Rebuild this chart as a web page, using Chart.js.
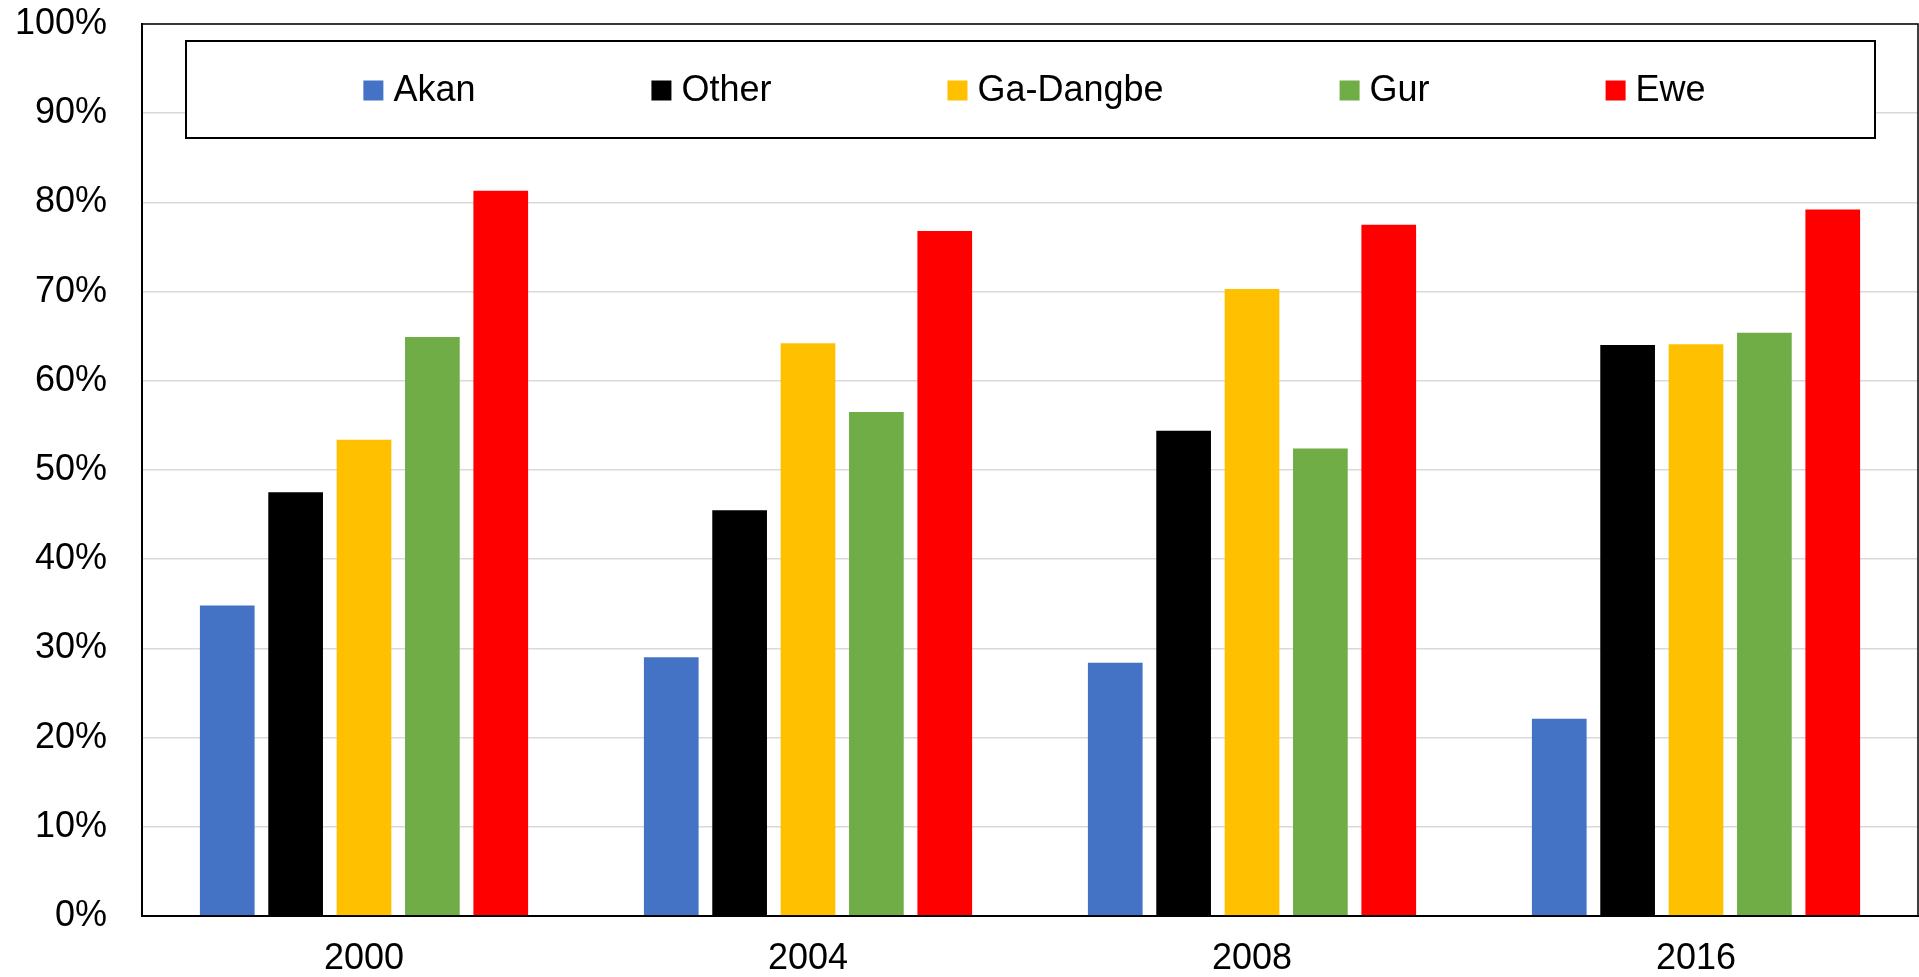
<!DOCTYPE html>
<html>
<head>
<meta charset="utf-8">
<script src="https://cdn.jsdelivr.net/npm/chart.js@4.4.0/dist/chart.umd.min.js"></script>
<style>
  html, body { margin: 0; padding: 0; background: #fff; overflow: hidden; }
  #wrap { width: 1919px; height: 977px; }
</style>
</head>
<body>
<div id="wrap"><canvas id="chart" width="1919" height="977"></canvas></div>
<script>
var years = ['2000', '2004', '2008', '2016'];
var groups = ['Akan', 'Other', 'Ga-Dangbe', 'Gur', 'Ewe'];
var colors = ['#4472C4', '#000000', '#FFC000', '#70AD47', '#FF0000'];

// percent values, one array per group
var akan = [34.8, 29.0, 28.4, 22.1];
var other = [47.5, 45.5, 54.4, 64.0];
var gaDangbe = [53.4, 64.2, 70.3, 64.1];
var gur = [64.9, 56.5, 52.4, 65.4];
var ewe = [81.3, 76.8, 77.5, 79.2];

var yTicks = ['0%', '10%', '20%', '30%', '40%', '50%', '60%', '70%', '80%', '90%', '100%'];

var FONT = "'Liberation Sans', Arial, sans-serif";
var series = [akan, other, gaDangbe, gur, ewe];

var datasets = groups.map(function (g, i) {
  return {
    label: g,
    data: series[i],
    backgroundColor: colors[i],
    borderWidth: 0,
    barPercentage: 0.8,
    categoryPercentage: 0.77
  };
});

// plot box + boxed legend drawn over the plot area
const boxPlugin = {
  id: 'boxPlugin',
  afterDraw: function (chart) {
    const c = chart.ctx;
    const a = chart.chartArea;
    c.save();
    c.strokeStyle = '#000';
    c.lineWidth = 1.5;
    c.strokeRect(a.left, a.top, a.right - a.left, a.bottom - a.top);

    // legend box
    var lx = 186, ly = 41, lw = 1875 - 186, lh = 138 - 41;
    c.fillStyle = '#fff';
    c.fillRect(lx, ly, lw, lh);
    c.lineWidth = 2;
    c.strokeRect(lx, ly, lw, lh);

    c.font = '36px ' + FONT;
    c.textBaseline = 'middle';
    var sq = 20, gapText = 10, gapItem = 176;
    var widths = chart.data.datasets.map(function (d) { return sq + gapText + c.measureText(d.label).width; });
    var total = widths.reduce(function (s, w) { return s + w; }, 0) + gapItem * (widths.length - 1);
    var x = lx + (lw - total) / 2 + 4;
    var cy = ly + lh / 2 + 1;
    chart.data.datasets.forEach(function (d, i) {
      c.fillStyle = d.backgroundColor;
      c.fillRect(x, cy - sq / 2, sq, sq);
      c.fillStyle = '#000';
      c.fillText(d.label, x + sq + gapText, cy + 1);
      x += widths[i] + gapItem;
    });
    c.restore();
  }
};

const ctx = document.getElementById('chart').getContext('2d');
const myChart = new Chart(ctx, {
  type: 'bar',
  data: { labels: years, datasets: datasets },
  options: {
    responsive: false,
    animation: false,
    devicePixelRatio: 1,
    layout: { autoPadding: false, padding: { left: 16, right: 1, top: 24, bottom: 0 } },
    plugins: {
      legend: { display: false },
      tooltip: { enabled: false }
    },
    scales: {
      x: {
        grid: { display: false, drawTicks: false },
        border: { display: true, color: '#000', width: 2 },
        ticks: {
          color: '#000',
          padding: 25,
          font: { family: FONT, size: 36, lineHeight: 1 }
        },
        afterFit: function (scale) {
          scale.height = 61;
          scale.paddingLeft = 0;
          scale.paddingRight = 0;
        }
      },
      y: {
        min: 0,
        max: 100,
        grid: { color: '#d9d9d9', lineWidth: 1.5, drawTicks: false },
        border: { display: true, color: '#000', width: 2 },
        ticks: {
          stepSize: 10,
          color: '#000',
          padding: 35,
          font: { family: FONT, size: 36, lineHeight: 1 },
          callback: function (v) { return yTicks[Math.round(v / 10)]; }
        },
        afterFit: function (scale) {
          scale.width = 126;
          scale.paddingTop = 0;
          scale.paddingBottom = 0;
        }
      }
    }
  },
  plugins: [boxPlugin]
});
</script>
</body>
</html>
